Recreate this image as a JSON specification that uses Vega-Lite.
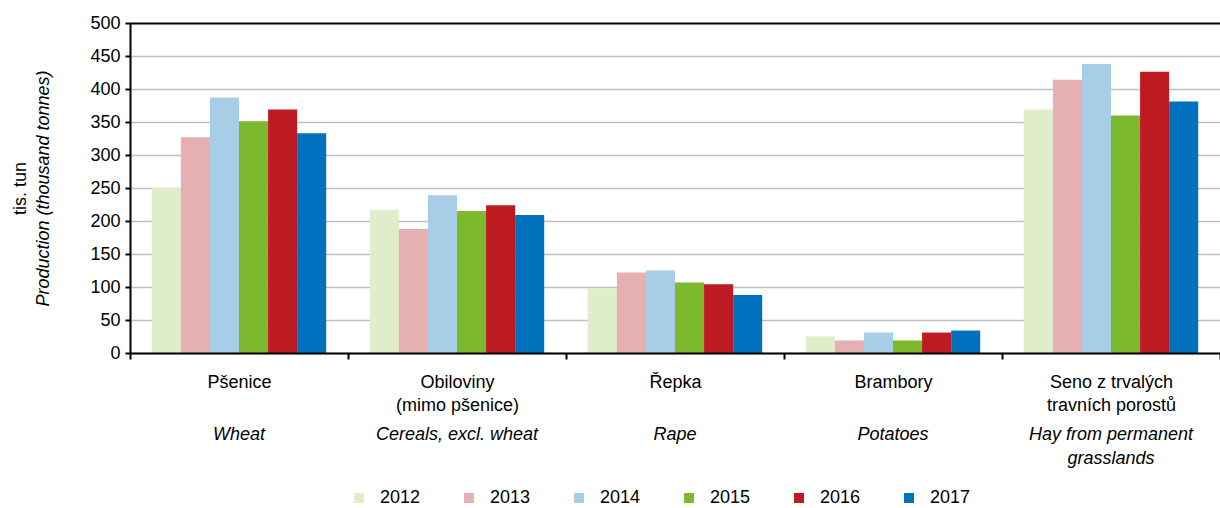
{
  "$schema": "https://vega.github.io/schema/vega-lite/v6.json",
  "width": 1090,
  "height": 330,
  "autosize": {"type": "none"},
  "padding": {"left": 130, "top": 23, "right": 0, "bottom": 155},
  "config": {
    "view": {"stroke": null},
    "font": "Liberation Sans",
    "axis": {"labelFont": "Liberation Sans", "titleFont": "Liberation Sans", "labelColor": "#000", "titleColor": "#000"}
  },
  "data": {
    "values": [
      {"cat": "Pšenice", "year": "2012", "value": 250},
      {"cat": "Pšenice", "year": "2013", "value": 327},
      {"cat": "Pšenice", "year": "2014", "value": 387},
      {"cat": "Pšenice", "year": "2015", "value": 351},
      {"cat": "Pšenice", "year": "2016", "value": 369},
      {"cat": "Pšenice", "year": "2017", "value": 333},
      {"cat": "Obiloviny (mimo pšenice)", "year": "2012", "value": 217},
      {"cat": "Obiloviny (mimo pšenice)", "year": "2013", "value": 188},
      {"cat": "Obiloviny (mimo pšenice)", "year": "2014", "value": 239},
      {"cat": "Obiloviny (mimo pšenice)", "year": "2015", "value": 215},
      {"cat": "Obiloviny (mimo pšenice)", "year": "2016", "value": 224},
      {"cat": "Obiloviny (mimo pšenice)", "year": "2017", "value": 209},
      {"cat": "Řepka", "year": "2012", "value": 98},
      {"cat": "Řepka", "year": "2013", "value": 122},
      {"cat": "Řepka", "year": "2014", "value": 125},
      {"cat": "Řepka", "year": "2015", "value": 107},
      {"cat": "Řepka", "year": "2016", "value": 104},
      {"cat": "Řepka", "year": "2017", "value": 88},
      {"cat": "Brambory", "year": "2012", "value": 25},
      {"cat": "Brambory", "year": "2013", "value": 19},
      {"cat": "Brambory", "year": "2014", "value": 31},
      {"cat": "Brambory", "year": "2015", "value": 19},
      {"cat": "Brambory", "year": "2016", "value": 31},
      {"cat": "Brambory", "year": "2017", "value": 34},
      {"cat": "Seno z trvalých travních porostů", "year": "2012", "value": 369},
      {"cat": "Seno z trvalých travních porostů", "year": "2013", "value": 414},
      {"cat": "Seno z trvalých travních porostů", "year": "2014", "value": 438},
      {"cat": "Seno z trvalých travních porostů", "year": "2015", "value": 360},
      {"cat": "Seno z trvalých travních porostů", "year": "2016", "value": 426},
      {"cat": "Seno z trvalých travních porostů", "year": "2017", "value": 381}
    ]
  },
  "layer": [
    {
      "mark": {"type": "bar"},
      "encoding": {
        "x": {
          "field": "cat", "type": "nominal", "sort": null,
          "scale": {"paddingInner": 0, "paddingOuter": 0},
          "axis": {
            "orient": "bottom",
            "title": null,
            "zindex": 1,
            "tickBand": "extent",
            "labelAngle": 0,
            "labelAlign": "center",
            "labelBaseline": "top",
            "labelFontSize": 18,
            "labelLineHeight": 23,
            "labelPadding": 14,
            "labelOverlap": false,
            "labelBound": false,
            "labelExpr": "datum.value == 'Obiloviny (mimo pšenice)' ? ['Obiloviny', '(mimo pšenice)'] : datum.value == 'Seno z trvalých travních porostů' ? ['Seno z trvalých', 'travních porostů'] : datum.value",
            "ticks": true,
            "tickSize": 6,
            "tickColor": "#000",
            "tickWidth": 2,
            "domain": true,
            "domainColor": "#000",
            "domainWidth": 2,
            "grid": false
          }
        },
        "xOffset": {"field": "year", "type": "nominal", "scale": {"paddingInner": 0, "paddingOuter": 0.75}},
        "y": {
          "field": "value", "type": "quantitative",
          "scale": {"domain": [0, 500], "nice": false},
          "axis": {
            "orient": "left",
            "title": "tis. tun",
            "titleFontSize": 18,
            "titleFontWeight": "normal",
            "titlePadding": 60,
            "values": [0, 50, 100, 150, 200, 250, 300, 350, 400, 450, 500],
            "labelFontSize": 18,
            "labelPadding": 5,
            "tickSize": 5,
            "tickColor": "#000",
            "tickWidth": 2,
            "domainColor": "#000",
            "domainWidth": 2,
            "grid": true,
            "gridColor": {"condition": {"test": "datum.value == 500", "value": "#000"}, "value": "#c0c0c0"},
            "gridWidth": {"condition": {"test": "datum.value == 500", "value": 2}, "value": 1.6}
          }
        },
        "color": {
          "field": "year", "type": "nominal",
          "scale": {
            "domain": ["2012", "2013", "2014", "2015", "2016", "2017"],
            "range": ["#dfedca", "#e6afb2", "#a7cde7", "#7db92d", "#be1a22", "#0071bc"]
          },
          "legend": {
            "orient": "none",
            "direction": "horizontal",
            "legendX": 220,
            "legendY": 466,
            "title": null,
            "symbolType": "square",
            "symbolSize": 100,
            "symbolStrokeWidth": 0,
            "labelFontSize": 18,
            "labelFont": "Liberation Sans",
            "labelColor": "#000",
            "labelOffset": 12,
            "columnPadding": 39
          }
        }
      }
    },
    {
      "mark": {"type": "bar", "opacity": 0},
      "encoding": {
        "x": {
          "field": "cat", "type": "nominal", "sort": null,
          "axis": {
            "orient": "bottom",
            "title": null,
            "labelAngle": 0,
            "labelAlign": "center",
            "labelBaseline": "top",
            "labelFontSize": 18,
            "labelFontStyle": "italic",
            "labelLineHeight": 24,
            "labelPadding": 72,
            "labelOverlap": false,
            "labelBound": false,
            "labelExpr": "datum.value == 'Pšenice' ? 'Wheat' : datum.value == 'Obiloviny (mimo pšenice)' ? 'Cereals, excl. wheat' : datum.value == 'Řepka' ? 'Rape' : datum.value == 'Brambory' ? 'Potatoes' : ['Hay from permanent', 'grasslands']",
            "ticks": false,
            "tickSize": 0,
            "domain": false,
            "grid": false
          }
        },
        "y": {
          "field": "value", "type": "quantitative",
          "axis": {
            "orient": "left",
            "title": "Production (thousand tonnes)",
            "titleFontSize": 18,
            "titleFontWeight": "normal",
            "titleFontStyle": "italic",
            "titlePadding": 78,
            "labels": false,
            "ticks": false,
            "tickSize": 0,
            "domain": false,
            "grid": false
          }
        }
      }
    }
  ],
  "resolve": {"axis": {"x": "independent", "y": "independent"}}
}
